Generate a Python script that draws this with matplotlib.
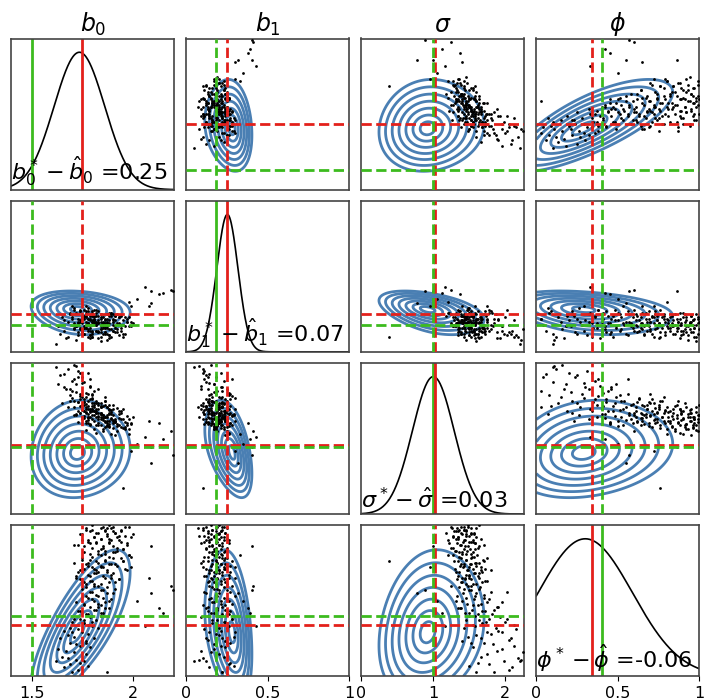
import numpy as np
import matplotlib
matplotlib.use('Agg')
import matplotlib.pyplot as plt

# ---------------- data ----------------
param_titles = [r'$b_0$', r'$b_1$', r'$\sigma$', r'$\phi$']
diff_labels = [r'$b_0^* - \hat{b}_0$ =0.25', r'$b_1^* - \hat{b}_1$ =0.07',
               r'$\sigma^* - \hat{\sigma}$ =0.03', r'$\phi^* - \hat{\phi}$ =-0.06']
star_vals = [1.75, 0.25, 1.03, 0.34]
hat_vals = [1.50, 0.18, 1.00, 0.40]
axis_lims = [(1.396, 2.207), (0.0, 1.0), (0.0, 2.265), (0.0, 1.0)]
tick_vals = [[1.5, 2], [0, 0.5, 1], [0, 1, 2], [0, 0.5, 1]]
tick_labels = [['1.5', '2'], ['0', '0.5', '1'], ['0', '1', '2'], ['0', '0.5', '1']]

# marginal density (diagonal) parameters
dens_mean = [1.735, 0.252, 1.00, 0.30]
dens_sd = [0.126, 0.065, 0.29, 0.29]

# contour model parameters (skewed gaussian approximation)
cont_center = [1.725, 0.28, 0.92, 0.29]
cont_scale = [0.070, 0.040, 0.207, 0.14]
cont_skew = [0.037, -0.0857, 0.043, 0.057]
cont_corr = [[1.00, -0.15, 0.08, 0.75],
             [-0.15, 1.00, -0.45, -0.30],
             [0.08, -0.45, 1.00, 0.18],
             [0.75, -0.30, 0.18, 1.00]]
cont_levels = [0.5, 1.0, 1.5, 2.0, 2.5, 3.0, 3.5]

# samples
sample_b0 = [1.70, 1.66, 1.74, 1.68, 1.77, 1.63, 1.72, 1.79,
             1.69, 1.75, 1.71, 1.78, 1.66, 1.73, 1.80, 1.76, 1.70, 1.82, 1.74, 1.79, 1.68, 1.77,
             1.78, 1.84, 1.74, 1.81, 1.86, 1.76, 1.83, 1.72, 1.88, 1.80, 1.85, 1.77, 1.82, 1.90, 1.79, 1.84, 1.75, 1.87, 1.81, 1.83,
             1.81, 1.76, 1.88, 1.79, 1.93, 1.72, 1.85, 1.78, 1.90, 1.83, 1.74, 1.87, 1.96, 1.80, 1.84, 1.77, 1.91, 1.71, 1.86, 1.82, 1.79, 1.94, 1.75, 1.88, 1.98, 1.81, 1.84, 1.89, 1.78,
             1.83, 1.90, 1.76, 1.86, 1.95, 1.80, 1.92, 1.85, 1.73, 1.88, 1.97, 1.82, 1.89, 1.78, 1.84, 1.99, 1.81, 1.93, 1.87, 1.75, 1.91, 1.86, 1.79, 1.94, 1.84, 1.77, 1.90, 1.96, 1.82, 1.71, 1.88, 1.94, 1.80,
             1.87, 1.95,
             2.20, 2.15, 2.13, 2.09, 2.09, 2.06, 2.19, 2.02,
             1.73, 1.69, 1.76, 1.65, 1.71, 1.78, 1.67, 1.74,
             1.72, 1.77, 1.64, 1.81, 1.70, 1.75, 1.83, 1.69, 1.78, 1.73, 1.80, 1.76, 1.71, 1.84,
             1.80, 1.77, 1.85, 1.73, 1.82, 1.88, 1.79, 1.84, 1.76, 1.86, 1.81, 1.89, 1.78, 1.83, 1.87, 1.80, 1.85, 1.91, 1.77, 1.83,
             1.84, 1.77, 1.91, 1.80, 1.74, 1.93, 1.86, 1.79, 1.89, 1.82, 1.73, 1.87, 1.97, 1.81, 1.76, 1.85, 1.92, 1.78, 1.88, 1.83, 1.95, 1.75, 1.86, 1.90, 1.80, 1.99, 1.84, 1.72, 1.89, 1.82,
             1.86, 1.79, 1.92, 1.83, 1.95, 1.85, 1.76, 1.90, 1.97, 1.82, 1.88, 1.78, 1.93, 1.84, 1.81, 1.96, 1.87, 1.74, 1.91, 1.83, 1.94, 1.86, 1.77, 1.89, 1.85, 1.98, 1.88, 1.80, 1.92, 1.84, 1.90, 1.75, 2.00, 1.87, 1.79, 1.91,
             1.99, 1.98, 1.62, 2.08]
sample_b1 = [0.22, 0.14, 0.27, 0.10, 0.20, 0.17, 0.08, 0.24,
             0.25, 0.13, 0.29, 0.18, 0.21, 0.11, 0.26, 0.16, 0.23, 0.19, 0.28, 0.09, 0.20, 0.24,
             0.22, 0.15, 0.27, 0.19, 0.12, 0.24, 0.21, 0.17, 0.26, 0.14, 0.23, 0.30, 0.18, 0.20, 0.11, 0.25, 0.19, 0.16, 0.28, 0.13,
             0.21, 0.17, 0.24, 0.14, 0.19, 0.26, 0.12, 0.22, 0.18, 0.27, 0.15, 0.20, 0.23, 0.10, 0.25, 0.16, 0.21, 0.19, 0.13, 0.28, 0.18, 0.24, 0.22, 0.11, 0.17, 0.20, 0.23, 0.15, 0.19,
             0.19, 0.14, 0.23, 0.17, 0.21, 0.12, 0.25, 0.16, 0.20, 0.09, 0.22, 0.18, 0.26, 0.14, 0.20, 0.17, 0.23, 0.11, 0.19, 0.15, 0.24, 0.13, 0.21, 0.16, 0.07, 0.18, 0.22, 0.12, 0.20, 0.16, 0.25, 0.14, 0.10,
             0.22, 0.10,
             0.40, 0.39, 0.38, 0.32, 0.40, 0.43, 0.41, 0.35,
             0.18, 0.26, 0.12, 0.23, 0.15, 0.29, 0.09, 0.21,
             0.17, 0.27, 0.12, 0.22, 0.30, 0.14, 0.20, 0.25, 0.10, 0.19, 0.24, 0.16, 0.28, 0.13,
             0.20, 0.26, 0.17, 0.13, 0.24, 0.19, 0.22, 0.10, 0.28, 0.16, 0.21, 0.25, 0.15, 0.19, 0.12, 0.27, 0.20, 0.17, 0.23, 0.14,
             0.18, 0.25, 0.13, 0.21, 0.16, 0.23, 0.19, 0.11, 0.26, 0.14, 0.22, 0.17, 0.20, 0.24, 0.12, 0.19, 0.15, 0.27, 0.21, 0.09, 0.18, 0.23, 0.16, 0.25, 0.13, 0.20, 0.22, 0.17, 0.24, 0.14,
             0.21, 0.16, 0.19, 0.24, 0.12, 0.18, 0.22, 0.14, 0.20, 0.26, 0.11, 0.19, 0.23, 0.15, 0.21, 0.17, 0.08, 0.20, 0.24, 0.13, 0.18, 0.22, 0.16, 0.10, 0.19, 0.23, 0.15, 0.20, 0.13, 0.17, 0.21, 0.12, 0.19, 0.25, 0.18, 0.16,
             0.30, 0.33, 0.05, 0.30]
sample_sigma = [1.85, 2.10, 1.62, 2.18, 1.75, 1.95, 2.22, 1.55,
                1.70, 2.05, 1.48, 1.80, 1.90, 2.15, 1.58, 1.68, 2.00, 1.45, 1.77, 1.92, 1.60, 1.40,
                1.62, 1.50, 1.72, 1.85, 1.38, 1.55, 1.66, 1.95, 1.32, 1.78, 1.45, 1.58, 1.70, 1.41, 2.02, 1.52, 1.64, 1.36, 1.48, 1.88,
                1.55, 1.68, 1.40, 1.72, 1.33, 1.50, 1.62, 1.45, 1.58, 1.36, 1.80, 1.48, 1.30, 1.66, 1.42, 1.53, 1.38, 1.60, 1.70, 1.34, 1.46, 1.52, 1.75, 1.56, 1.28, 1.64, 1.50, 1.44, 1.58,
                1.45, 1.36, 1.55, 1.30, 1.42, 1.62, 1.25, 1.48, 1.38, 1.58, 1.33, 1.52, 1.20, 1.44, 1.66, 1.35, 1.28, 1.50, 1.40, 1.56, 1.18, 1.46, 1.34, 1.42, 1.60, 1.26, 1.48, 1.38, 1.52, 1.70, 1.31, 1.55, 1.43,
                1.60, 0.39,
                0.88, 1.12, 1.37, 0.77, 1.00, 1.16, 1.25, 1.05,
                2.05, 1.78, 1.98, 1.66, 2.24, 1.50, 1.88, 2.12,
                1.83, 1.52, 2.08, 1.66, 1.74, 1.96, 1.42, 1.87, 2.12, 1.55, 1.73, 1.64, 2.02, 1.50,
                1.58, 1.82, 1.44, 1.68, 1.54, 1.35, 1.90, 1.62, 1.47, 1.75, 1.40, 1.56, 1.70, 1.33, 1.60, 1.80, 1.49, 1.43, 1.65, 1.52,
                1.46, 1.60, 1.38, 1.74, 1.52, 1.44, 1.63, 1.35, 1.50, 1.57, 1.68, 1.32, 1.47, 1.55, 1.72, 1.41, 1.59, 1.37, 1.51, 1.64, 1.29, 1.45, 1.69, 1.39, 1.54, 1.36, 1.61, 1.49, 1.43, 1.66,
                1.40, 1.53, 1.32, 1.47, 1.58, 1.28, 1.44, 1.63, 1.37, 1.22, 1.50, 1.41, 1.55, 1.34, 1.60, 1.27, 1.46, 1.52, 1.39, 1.57, 1.31, 1.45, 1.36, 1.53, 1.24, 1.42, 1.64, 1.48, 1.35, 1.51, 1.29, 1.43, 1.46, 1.33, 1.58, 1.40,
                0.95, 1.20, 2.20, 1.40]
sample_phi = [0.03, 0.06, 0.09, 0.12, 0.15, 0.18, 0.11, 0.19,
              0.22, 0.24, 0.26, 0.28, 0.30, 0.31, 0.33, 0.35, 0.36, 0.37, 0.38, 0.39, 0.27, 0.23,
              0.41, 0.42, 0.43, 0.44, 0.45, 0.47, 0.48, 0.49, 0.50, 0.51, 0.52, 0.53, 0.54, 0.55, 0.56, 0.57, 0.58, 0.59, 0.60, 0.46,
              0.61, 0.62, 0.62, 0.63, 0.64, 0.65, 0.66, 0.67, 0.68, 0.69, 0.70, 0.70, 0.71, 0.72, 0.73, 0.74, 0.74, 0.75, 0.76, 0.76, 0.77, 0.78, 0.78, 0.79, 0.80, 0.68, 0.72, 0.65, 0.75,
              0.81, 0.82, 0.82, 0.83, 0.84, 0.85, 0.85, 0.86, 0.87, 0.88, 0.88, 0.89, 0.90, 0.90, 0.91, 0.92, 0.92, 0.93, 0.94, 0.94, 0.95, 0.96, 0.96, 0.97, 0.98, 0.98, 0.99, 0.99, 0.95, 0.87, 0.91, 0.89, 0.97,
              0.03, 0.76,
              0.57, 0.42, 0.45, 0.55, 0.86, 0.33, 0.60, 0.50,
              0.04, 0.08, 0.10, 0.13, 0.16, 0.07, 0.17, 0.20,
              0.21, 0.22, 0.25, 0.25, 0.29, 0.29, 0.32, 0.32, 0.34, 0.34, 0.36, 0.37, 0.38, 0.40,
              0.40, 0.41, 0.42, 0.43, 0.44, 0.45, 0.46, 0.47, 0.48, 0.49, 0.50, 0.51, 0.52, 0.53, 0.55, 0.56, 0.57, 0.58, 0.59, 0.60,
              0.61, 0.61, 0.62, 0.63, 0.64, 0.64, 0.65, 0.66, 0.67, 0.68, 0.69, 0.69, 0.70, 0.71, 0.71, 0.72, 0.73, 0.73, 0.74, 0.75, 0.76, 0.77, 0.77, 0.78, 0.79, 0.79, 0.80, 0.66, 0.74, 0.70,
              0.81, 0.81, 0.83, 0.83, 0.84, 0.85, 0.86, 0.86, 0.87, 0.88, 0.89, 0.89, 0.90, 0.91, 0.92, 0.93, 0.93, 0.94, 0.95, 0.95, 0.96, 0.97, 0.97, 0.98, 0.99, 0.99, 1.00, 1.00, 0.92, 0.84, 0.96, 0.90, 0.94, 0.98, 0.88, 0.82,
              0.72, 0.80, 0.10, 0.65]

# ---------------- drawing ----------------
samples = [np.array(sample_b0), np.array(sample_b1), np.array(sample_sigma), np.array(sample_phi)]
n = min(len(s) for s in samples)
samples = [s[:n] for s in samples]

RED = '#e3201b'
GREEN = '#3cbb1e'
BLUE = '#4a7fb3'


def transform(theta, k):
    z = (theta - cont_center[k]) / cont_scale[k]
    lam = cont_skew[k]
    return (1.0 - np.exp(-lam * z)) / lam


fig, axes = plt.subplots(4, 4, figsize=(7.05, 7.0), dpi=100)
fig.subplots_adjust(left=0.016, right=0.992, top=0.945, bottom=0.034,
                    wspace=0.074, hspace=0.073)

for i in range(4):
    for j in range(4):
        ax = axes[i, j]
        ax.set_xlim(*axis_lims[j])
        if i == j:
            x = np.linspace(axis_lims[j][0], axis_lims[j][1], 400)
            y = np.exp(-0.5 * ((x - dens_mean[j]) / dens_sd[j]) ** 2) / (dens_sd[j] * np.sqrt(2 * np.pi))
            ax.plot(x, y, color='black', lw=1.2)
            ax.set_ylim(0, 1.1 * y.max())
            ax.axvline(hat_vals[j], color=GREEN, lw=2)
            ax.axvline(star_vals[j], color=RED, lw=2)
            ax.text(0.0, 0.012, diff_labels[j], transform=ax.transAxes,
                    fontsize=16, ha='left', va='bottom')
        else:
            ax.set_ylim(*axis_lims[i])
            gx = np.linspace(axis_lims[j][0], axis_lims[j][1], 300)
            gy = np.linspace(axis_lims[i][0], axis_lims[i][1], 300)
            X, Y = np.meshgrid(gx, gy)
            ux = transform(X, j)
            uy = transform(Y, i)
            rho = cont_corr[i][j]
            Q = (ux ** 2 - 2 * rho * ux * uy + uy ** 2) / (1 - rho ** 2)
            ax.contour(X, Y, np.sqrt(Q), levels=cont_levels, colors=BLUE, linewidths=2)
            ax.scatter(samples[j], samples[i], s=4, color='black', linewidths=0, zorder=3)
            ax.axvline(star_vals[j], color=RED, lw=2, ls='--', zorder=4)
            ax.axhline(star_vals[i], color=RED, lw=2, ls='--', zorder=4)
            ax.axvline(hat_vals[j], color=GREEN, lw=2, ls='--', zorder=4)
            ax.axhline(hat_vals[i], color=GREEN, lw=2, ls='--', zorder=4)
        ax.set_yticks([])
        if i == 3:
            ax.set_xticks(tick_vals[j])
            ax.set_xticklabels(tick_labels[j], fontsize=11.5)
        else:
            ax.set_xticks([])
        if i == 0:
            ax.set_title(param_titles[j], fontsize=17, pad=5)
        for sp in ax.spines.values():
            sp.set_color('#444444')
            sp.set_linewidth(1.2)

fig.savefig('out.png', dpi=100)
